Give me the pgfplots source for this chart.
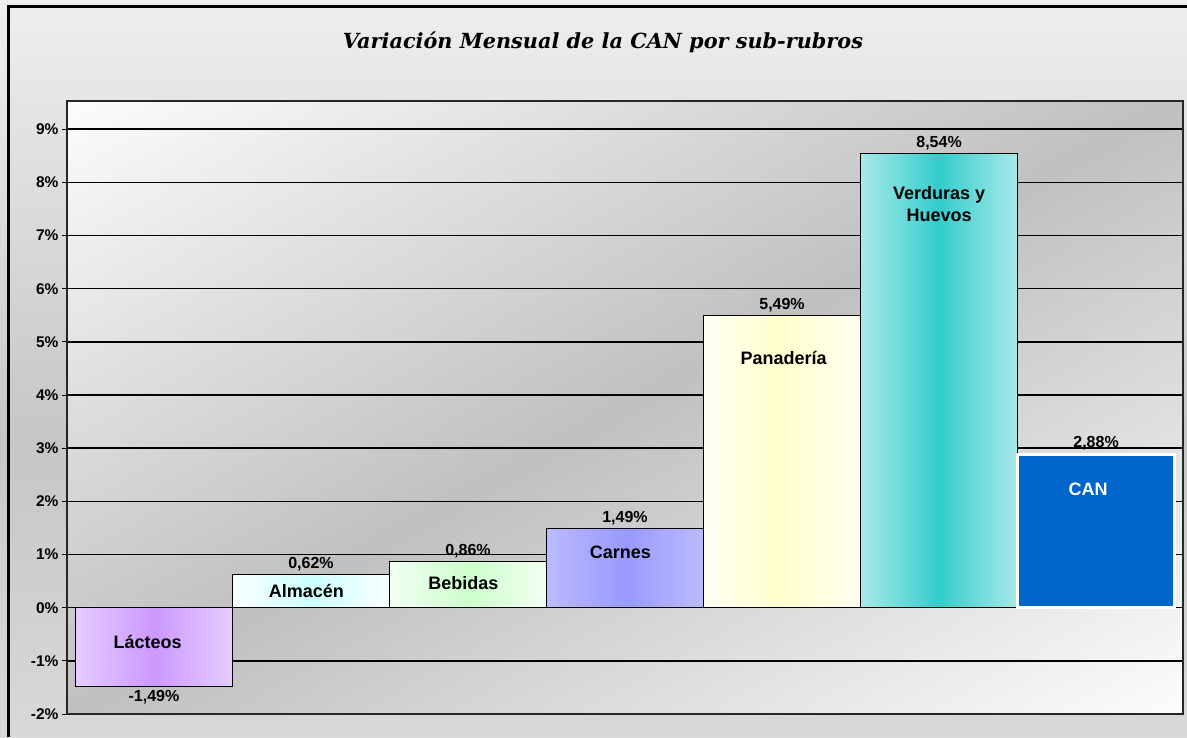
\documentclass[border=0pt]{standalone}
\usepackage{fontspec}
\setmainfont{Liberation Sans}
\newfontfamily\titlefont{DejaVu Serif}
\usepackage{pgfplots}
\pgfplotsset{compat=1.18}

\definecolor{lacE}{HTML}{E4CCFF}
\definecolor{lacM}{HTML}{CC99FF}
\definecolor{almE}{HTML}{FAFFFF}
\definecolor{almM}{HTML}{CCFFFF}
\definecolor{bebE}{HTML}{F2FFF2}
\definecolor{bebM}{HTML}{CCFFCC}
\definecolor{carE}{HTML}{BBBBFF}
\definecolor{carM}{HTML}{9999FF}
\definecolor{panE}{HTML}{FFFFF2}
\definecolor{panM}{HTML}{FFFFCC}
\definecolor{verE}{HTML}{A8EAE8}
\definecolor{verM}{HTML}{33CCCC}
\definecolor{canblue}{HTML}{0066CC}
\definecolor{bgmid}{HTML}{C0C0C0}
\definecolor{bgend}{HTML}{FEFEFE}
\definecolor{obot}{HTML}{F0F0F0}
\definecolor{omid}{HTML}{C6C6C6}
\definecolor{otop}{HTML}{F5F5F5}

\pgfdeclareverticalshading{outerbg}{100bp}{color(0bp)=(obot); color(45bp)=(omid); color(80bp)=(otop); color(100bp)=(bgend)}
\pgfdeclareverticalshading{plotbg}{100bp}{color(0bp)=(bgend); color(15bp)=(bgend); color(50bp)=(bgmid); color(85bp)=(bgend); color(100bp)=(bgend)}

\begin{document}
\begin{tikzpicture}
% chart area and plot area backgrounds
\shade[shading=outerbg] (0pt,0pt) rectangle (1187pt,-737pt);
\useasboundingbox (0pt,0pt) rectangle (1187pt,-737pt);
\shade[shading=plotbg, shading angle=29] (67pt,-101pt) rectangle (1183pt,-714pt);
\draw[line width=3.5pt] (8.5pt,-737pt) -- (8.5pt,-6.5pt) -- (1187pt,-6.5pt);
\node[font=\titlefont\bfseries\itshape\fontsize{20.8}{24}\selectfont] at (603pt,-42pt) {Variación Mensual de la CAN por sub-rubros};

\begin{axis}[
  at={(67pt,-714pt)}, anchor=south west,
  scale only axis, width=1116pt, height=613pt,
  xmin=-0.554, xmax=6.554, ymin=-2, ymax=9.53,
  xtick=\empty,
  ytick={-2,-1,0,1,2,3,4,5,6,7,8,9},
  ytick pos=left,
  yticklabel={\pgfmathprintnumber{\tick}\%},
  /pgf/number format/assume math mode=true,
  yticklabel style={font=\bfseries\fontsize{15.5}{18}\selectfont},
  ymajorgrids, grid style={black, line width=1.4pt},
  major tick style={black, line width=1pt},
  tick align=outside, major tick length=5pt,
  axis line style={black!85, line width=1.5pt},
  ybar, bar width=1, bar shift=0pt,
  nodes near coords={\pgfmathprintnumber[fixed,fixed zerofill,precision=2,use comma]{\pgfplotspointmeta}\%},
  nodes near coords style={font=\bfseries\fontsize{16}{18}\selectfont, text=black, inner sep=3pt},
  clip=false,
]
\addplot[draw=black, line width=1pt, left color=lacE, right color=lacE, middle color=lacM] coordinates {(0,-1.49)};
\addplot[draw=black, line width=1pt, left color=almE, right color=almE, middle color=almM] coordinates {(1,0.62)};
\addplot[draw=black, line width=1pt, left color=bebE, right color=bebE, middle color=bebM] coordinates {(2,0.86)};
\addplot[draw=black, line width=1pt, left color=carE, right color=carE, middle color=carM] coordinates {(3,1.49)};
\addplot[draw=black, line width=1pt, left color=panE, right color=panE, middle color=panM] coordinates {(4,5.49)};
\addplot[draw=black, line width=1pt, left color=verE, right color=verE, middle color=verM] coordinates {(5,8.54)};
\addplot[draw=white, line width=3pt, fill=canblue] coordinates {(6,2.88)};

\begin{scope}[font=\bfseries\fontsize{18}{22}\selectfont]
\node at (axis cs:-0.04,-0.64) {Lácteos};
\node at (axis cs:0.97,0.32) {Almacén};
\node at (axis cs:1.97,0.47) {Bebidas};
\node at (axis cs:2.97,1.04) {Carnes};
\node at (axis cs:4.01,4.69) {Panadería};
\node[align=center] at (axis cs:5.0,7.59) {Verduras y\\Huevos};
\node[text=white] at (axis cs:5.95,2.22) {CAN};
\end{scope}
\end{axis}
\end{tikzpicture}
\end{document}
